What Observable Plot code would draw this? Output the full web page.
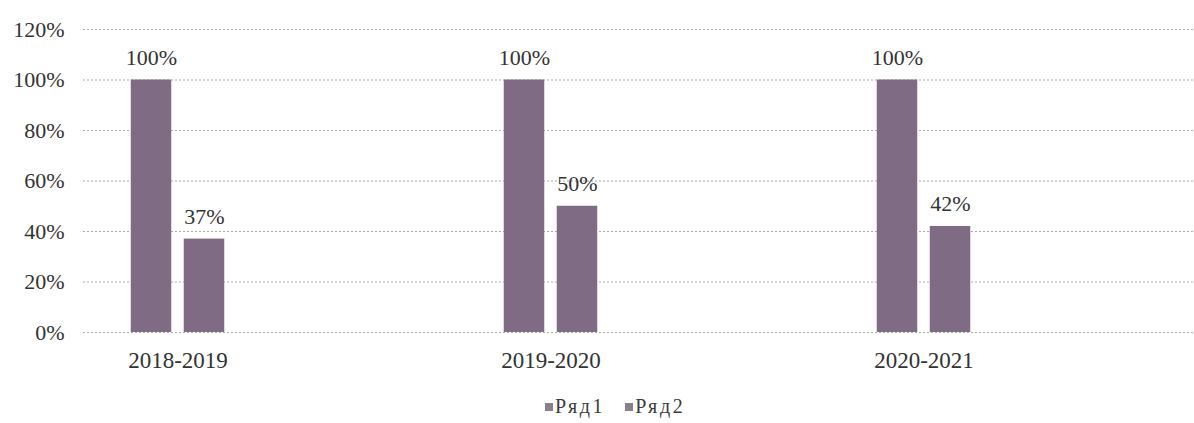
<!DOCTYPE html>
<html>
<head>
<meta charset="utf-8">
<script src="https://cdn.jsdelivr.net/npm/d3@7"></script>
<script src="https://cdn.jsdelivr.net/npm/@observablehq/plot@0.6"></script>
<style>
  html, body { margin: 0; padding: 0; background: #fff; }
  #wrap { position: relative; width: 1194px; height: 423px; overflow: hidden; font-family: "Liberation Serif", "DejaVu Serif", serif; }
  #legend { position: absolute; left: 545px; top: 395px; display: flex; align-items: center; gap: 20px; font-size: 20px; letter-spacing: 2.6px; color: #3a3a3a; font-family: "Liberation Serif", serif; }
  #legend .item { display: flex; align-items: center; gap: 2px; }
  #legend .sw { width: 8px; height: 8px; display: inline-block; }
</style>
</head>
<body>
<div id="wrap"><div id="chart"></div><div id="legend"></div></div>
<script>
const categories = ["2018-2019", "2019-2020", "2020-2021"];
const seriesNames = ["Ряд1", "Ряд2"];
const series1 = [1.00, 1.00, 1.00];
const series2 = [0.37, 0.50, 0.42];
const yTicks = [0, 0.2, 0.4, 0.6, 0.8, 1.0, 1.2];
const colors = ["#7f6c84", "#7f6c84"];

const rows = [];
categories.forEach((c, i) => {
  rows.push({category: c, series: seriesNames[0], value: series1[i]});
  rows.push({category: c, series: seriesNames[1], value: series2[i]});
});
const fmt = d3.format(".0%");
const textColor = "#333";
const fontSize = 22;

const barInset = 166.25;
const offsets = [-26.5, 26.5];

const marks = [
  Plot.ruleY(yTicks, {stroke: "#a9a9a9", strokeWidth: 1, strokeDasharray: "2,2"}),
  Plot.axisY(yTicks, {tickSize: 0, tickPadding: 19, tickFormat: fmt, fontSize, fill: textColor, label: null}),
  Plot.axisX({tickSize: 0, tickPadding: 19, fontSize: 23, fill: textColor, label: null})
];
seriesNames.forEach((s, k) => {
  const data = rows.filter(r => r.series === s);
  marks.push(Plot.barY(data, {x: "category", y: "value", fill: colors[k], insetLeft: barInset, insetRight: barInset, dx: offsets[k]}));
  marks.push(Plot.text(data, {x: "category", y: "value", text: d => fmt(d.value), dx: offsets[k], dy: -22, fontSize, fill: textColor}));
});

const chart = Plot.plot({
  width: 1194,
  height: 385,
  marginTop: 29,
  marginBottom: 53,
  marginLeft: 83,
  marginRight: 0,
  style: {fontFamily: "'Liberation Serif', 'DejaVu Serif', serif", background: "#fff"},
  x: {type: "band", domain: categories, range: [-9.75, 1110.75], padding: 0},
  y: {domain: [0, 1.2]},
  marks
});
document.getElementById("chart").appendChild(chart);

const legend = document.getElementById("legend");
seriesNames.forEach((s, k) => {
  const item = document.createElement("span");
  item.className = "item";
  const sw = document.createElement("span");
  sw.className = "sw";
  sw.style.background = "#8a7f8c";
  item.appendChild(sw);
  item.appendChild(document.createTextNode(s));
  legend.appendChild(item);
});
</script>
</body>
</html>
